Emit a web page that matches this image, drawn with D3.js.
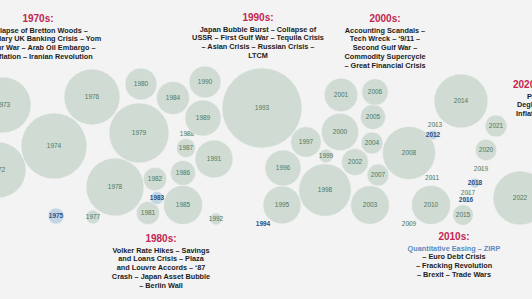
<!DOCTYPE html>
<html>
<head>
<meta charset="utf-8">
<script src="https://cdn.jsdelivr.net/npm/d3@7"></script>
<style>
  html, body { margin: 0; padding: 0; background: #f3f3f3; overflow: hidden; }
  svg { display: block; font-family: "Liberation Sans", Arial, sans-serif; }
</style>
</head>
<body>
<div id="viz"></div>
<script>
// one entry per year; value sign marks the blue (negative) years
const years = [1972, 1973, 1974, 1975, 1976, 1977, 1978, 1979,
    1980, 1981, 1982, 1983, 1984, 1985, 1986, 1987, 1988, 1989,
    1990, 1991, 1992, 1993, 1994, 1995, 1996, 1997, 1998, 1999,
    2000, 2001, 2002, 2003, 2004, 2005, 2006, 2007, 2008, 2009,
    2010, 2011, 2012, 2013, 2014, 2015, 2016, 2017, 2018, 2019,
    2020, 2021, 2022];

const values = [29.4, 29.4, 40.8, -2.4, 29.4, 1.8, 31.5, 33.8,
    9.6, 5.0, 5.1, -1.6, 10.2, 14.3, 5.9, 3.4, 0.15, 12.2,
    9.6, 13.5, 1.35, 60, -0.15, 13.5, 12.2, 8.8, 25.9, 1.8,
    13.1, 10.5, 6.8, 14.0, 4.5, 5.9, 6.6, 4.5, 26.3, 0.15,
    14.3, 0.15, -0.9, 0.15, 27.3, 4.0, -0.3, 0.15, -0.9, 0.15,
    4.3, 4.5, 27.3];

// packed layout, in chart units (0-532 across, 0-299 down)
const layoutX = [-2, 3, 54, 56, 92, 93, 115, 139,
    141, 148, 155, 157, 173, 183, 183, 186, 187, 203,
    205, 214, 216, 262, 263, 282, 283, 306, 325, 326,
    340, 341, 355, 370, 372, 373, 375, 378, 409, 409,
    431, 432, 433, 435, 461, 463, 466, 468, 475, 481,
    486, 496, 520];

const layoutY = [170, 105, 146, 216, 97, 217, 187, 133,
    84, 213, 179, 198, 98, 205, 173, 148, 134, 118,
    82, 159, 219, 108, 224, 205, 168, 142, 190, 156,
    132, 95, 162, 205, 143, 117, 92, 175, 153, 224,
    205, 178, 135, 125, 101, 215, 200, 193, 183, 169,
    150, 126, 198];

const decadeTitles = ['1970s:', '1980s:', '1990s:', '2000s:', '2010s:', '2020s:'];

const decadeLines = [
    ['Collapse of Bretton Woods \u2013', 'Secondary UK Banking Crisis \u2013 Yom',
        'Kippur War \u2013 Arab Oil Embargo \u2013', 'Stagflation \u2013 Iranian Revolution'],
    ['Volker Rate Hikes \u2013 Savings', 'and Loans Crisis \u2013 Plaza',
        'and Louvre Accords \u2013 \u201887', 'Crash \u2013 Japan Asset Bubble', '\u2013 Berlin Wall'],
    ['Japan Bubble Burst \u2013 Collapse of', 'USSR \u2013 First Gulf War \u2013 Tequila Crisis',
        '\u2013 Asian Crisis \u2013 Russian  Crisis \u2013', 'LTCM'],
    ['Accounting Scandals \u2013', 'Tech Wreck \u2013 \u20189/11 \u2013', 'Second Gulf War \u2013',
        'Commodity Supercycle', '\u2013 Great Financial Crisis'],
    ['Quantitative Easing \u2013 ZIRP', '\u2013 Euro Debt Crisis',
        '\u2013 Fracking Revolution', '\u2013 Brexit \u2013 Trade Wars'],
    ['Pandemic \u2013', 'Deglobalization \u2013', 'Inflation \u2013 Ukraine']
];

const width = 532,
    height = 299;

const colors = {
    bubble: '#cfdbd3',
    bubbleNeg: '#c3d6e6',
    label: '#4b7a63',
    labelNeg: '#2c5282',
    title: '#c3254f',
    text: '#1c1c1c',
    accent: '#5a8cc4'
};

const svg = d3.select('#viz').append('svg')
    .attr('width', width)
    .attr('height', height);

svg.append('rect')
    .attr('width', width)
    .attr('height', height)
    .attr('fill', '#f3f3f3');

const x = d3.scaleLinear().domain([0, 532]).range([0, width]);
const y = d3.scaleLinear().domain([0, 299]).range([0, height]);
const r = d3.scaleSqrt().domain([0, 60]).range([0, 40]);

const data = years.map((yr, i) => ({
    year: yr,
    value: values[i],
    px: layoutX[i],
    py: layoutY[i]
}));

const bubbles = svg.append('g')
    .selectAll('g')
    .data(data)
    .join('g')
    .attr('transform', d => `translate(${x(d.px)},${y(d.py)})`);

bubbles.append('circle')
    .attr('r', d => r(Math.abs(d.value)))
    .attr('fill', d => d.value < 0 ? colors.bubbleNeg : colors.bubble)
    .attr('stroke', '#f3f3f3')
    .attr('stroke-width', 0.6);

bubbles.append('text')
    .attr('text-anchor', 'middle')
    .attr('dy', '0.35em')
    .attr('font-size', 6.5)
    .attr('font-weight', d => d.value < 0 ? 'bold' : 'normal')
    .attr('fill', d => d.value < 0 ? colors.labelNeg : colors.label)
    .text(d => d.year);

// decade notes: [x, title y, anchor]
const notePlaces = [
    [38, 22, 'middle'],
    [161, 242, 'middle'],
    [258, 21, 'middle'],
    [385, 22, 'middle'],
    [454, 240, 'middle'],
    [513, 88, 'start']
];

decadeTitles.forEach((title, i) => {
    const [nx, ny, anchor] = notePlaces[i];
    const g = svg.append('g');

    g.append('text')
        .attr('x', nx)
        .attr('y', ny)
        .attr('text-anchor', anchor)
        .attr('font-size', 10)
        .attr('font-weight', 'bold')
        .attr('fill', colors.title)
        .text(title);

    decadeLines[i].forEach((line, j) => {
        let lx = nx;
        if (i === 5) lx = [527, 517, 516][j];

        g.append('text')
            .attr('x', lx)
            .attr('y', ny + 10.5 + j * 8.8)
            .attr('text-anchor', anchor)
            .attr('font-size', 7.3)
            .attr('font-weight', 'bold')
            .attr('fill', (i === 4 && j === 0) ? colors.accent : colors.text)
            .text(line);
    });
});
</script>
</body>
</html>
